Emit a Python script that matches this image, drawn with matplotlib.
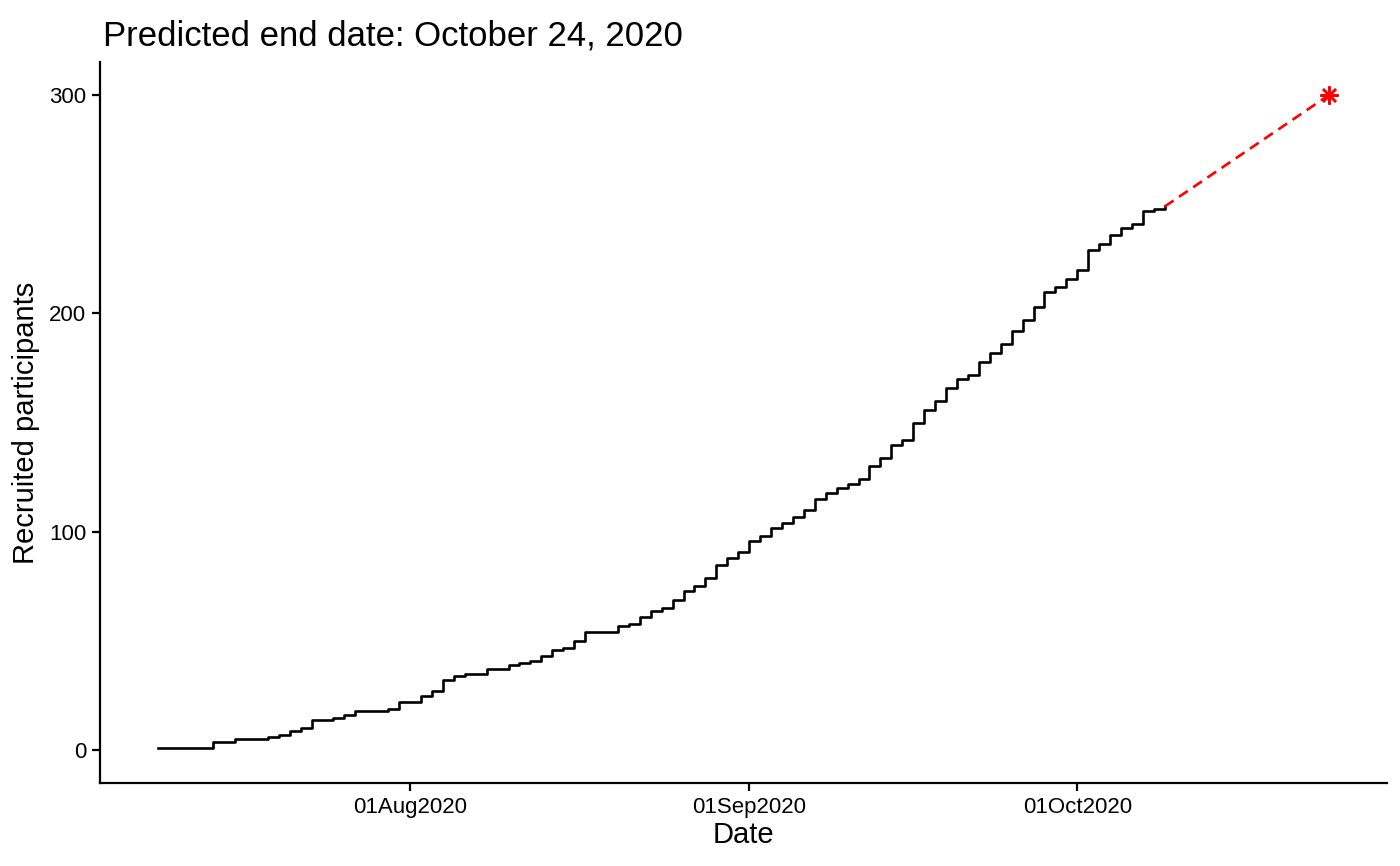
import matplotlib
matplotlib.use("Agg")
import matplotlib.pyplot as plt
import matplotlib.dates as mdates
import pandas as pd

# recruitment change points (date, cumulative participants)
dates = ["2020-07-09", "2020-07-14", "2020-07-16", "2020-07-19", "2020-07-20",
         "2020-07-21", "2020-07-22", "2020-07-23", "2020-07-25", "2020-07-26",
         "2020-07-27", "2020-07-30", "2020-07-31", "2020-08-02", "2020-08-03",
         "2020-08-04", "2020-08-05", "2020-08-06", "2020-08-08", "2020-08-10",
         "2020-08-11", "2020-08-12", "2020-08-13", "2020-08-14", "2020-08-15",
         "2020-08-16", "2020-08-17", "2020-08-20", "2020-08-21", "2020-08-22",
         "2020-08-23", "2020-08-24", "2020-08-25", "2020-08-26", "2020-08-27",
         "2020-08-28", "2020-08-29", "2020-08-30", "2020-08-31", "2020-09-01",
         "2020-09-02", "2020-09-03", "2020-09-04", "2020-09-05", "2020-09-06",
         "2020-09-07", "2020-09-08", "2020-09-09", "2020-09-10", "2020-09-11",
         "2020-09-12", "2020-09-13", "2020-09-14", "2020-09-15", "2020-09-16",
         "2020-09-17", "2020-09-18", "2020-09-19", "2020-09-20", "2020-09-21",
         "2020-09-22", "2020-09-23", "2020-09-24", "2020-09-25", "2020-09-26",
         "2020-09-27", "2020-09-28", "2020-09-29", "2020-09-30", "2020-10-01",
         "2020-10-02", "2020-10-03", "2020-10-04", "2020-10-05", "2020-10-06",
         "2020-10-07", "2020-10-08", "2020-10-09"]
recruited = [1, 4, 5, 6, 7, 9, 10, 14, 15, 16,
             18, 19, 22, 25, 27, 32, 34, 35, 37, 39,
             40, 41, 43, 46, 47, 50, 54, 57, 58, 61,
             64, 65, 69, 73, 75, 79, 85, 88, 91, 96,
             98, 102, 104, 107, 110, 115, 118, 120, 122, 124,
             130, 134, 140, 142, 150, 156, 160, 166, 170, 172,
             178, 182, 186, 192, 197, 203, 210, 212, 216, 220,
             229, 232, 236, 239, 241, 247, 248, 249]

target = 300
end_date = "2020-10-24"
tick_dates = ["2020-08-01", "2020-09-01", "2020-10-01"]

plt.rcParams['font.family'] = ['Liberation Sans', 'DejaVu Sans']

x = pd.to_datetime(dates)
end = pd.Timestamp(end_date)

fig = plt.figure(figsize=(14, 8.66), dpi=100)
ax = fig.add_axes([0.0714, 0.0958, 0.9196, 0.8322])

ax.step(x, recruited, where='post', color='black', linewidth=1.9)
ax.plot([x[-1], end], [recruited[-1], target], color='red', linestyle=(0, (4, 2.5)), linewidth=1.9)
ax.plot([end], [target], marker=(8, 2, 0), color='red', markersize=13, markeredgewidth=1.8, linestyle='none')

span = (end - x[0]).days
pad = pd.Timedelta(days=span * 0.05)
ax.set_xlim(x[0] - pad, end + pad)
ax.set_ylim(-15, 315)

ax.set_xticks(pd.to_datetime(tick_dates))
ax.xaxis.set_major_formatter(mdates.DateFormatter('%d%b%Y'))
ax.set_yticks([0, 100, 200, 300])

for side in ['top', 'right']:
    ax.spines[side].set_visible(False)
for side in ['left', 'bottom']:
    ax.spines[side].set_linewidth(1.6)
ax.tick_params(axis='both', length=6, width=1.6, labelsize=16, colors='black', pad=4)

ax.set_xlabel('Date', fontsize=21, labelpad=2)
ax.set_ylabel('Recruited participants', fontsize=21, labelpad=6)
ax.set_title('Predicted end date: October 24, 2020', fontsize=25, loc='left', pad=12, x=0.002)

fig.savefig('out.png', dpi=100)
